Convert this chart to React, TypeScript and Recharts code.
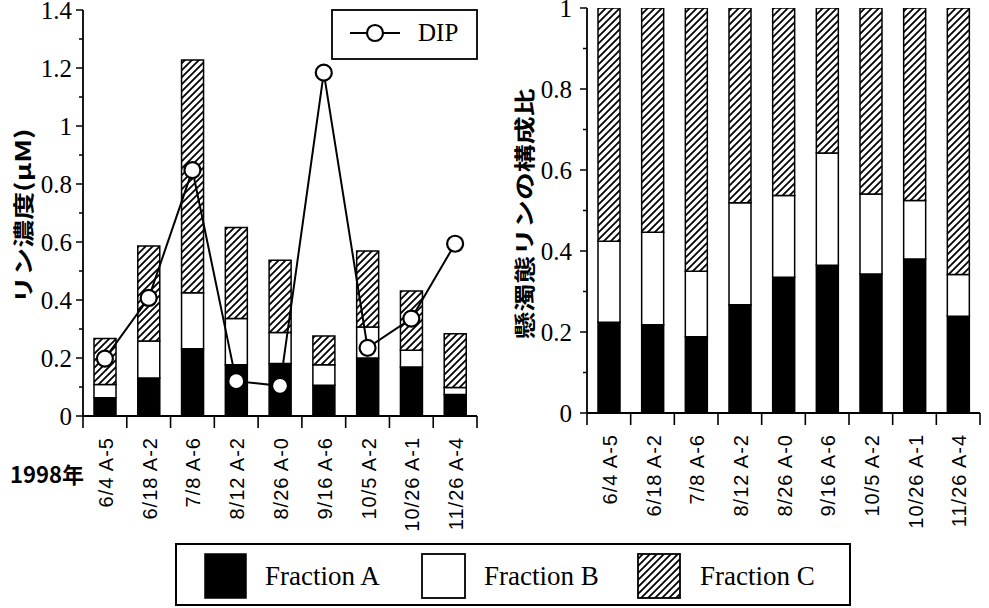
import React from 'react';
import { ComposedChart, Bar, Line, XAxis, YAxis } from 'recharts';

// ---------- data ----------
const categories = ['6/4 A-5', '6/18 A-2', '7/8 A-6', '8/12 A-2', '8/26 A-0', '9/16 A-6', '10/5 A-2', '10/26 A-1', '11/26 A-4'];

// left panel: concentrations (µM)
const fractionA = [0.063, 0.131, 0.232, 0.177, 0.181, 0.106, 0.2, 0.169, 0.074];
const fractionB = [0.046, 0.128, 0.193, 0.159, 0.107, 0.071, 0.107, 0.058, 0.024];
const fractionC = [0.158, 0.327, 0.803, 0.314, 0.249, 0.099, 0.262, 0.204, 0.186];
const dipValues = [0.198, 0.407, 0.848, 0.12, 0.104, 1.184, 0.235, 0.336, 0.594];

// right panel: composition ratio
const ratioA = [0.224, 0.218, 0.188, 0.267, 0.335, 0.365, 0.343, 0.38, 0.239];
const ratioB = [0.2, 0.228, 0.162, 0.252, 0.202, 0.277, 0.198, 0.145, 0.103];
const ratioC = [0.576, 0.554, 0.65, 0.481, 0.463, 0.358, 0.459, 0.475, 0.658];

const leftTicks = [0, 0.1, 0.2, 0.3, 0.4, 0.5, 0.6, 0.7, 0.8, 0.9, 1, 1.1, 1.2, 1.3, 1.4];
const rightTicks = [0, 0.1, 0.2, 0.3, 0.4, 0.5, 0.6, 0.7, 0.8, 0.9, 1];

const leftTitle = 'リン濃度(μM)';
const rightTitle = '懸濁態リンの構成比';
const yearLabel = '1998年';
const legendNames = ['Fraction A', 'Fraction B', 'Fraction C'];
const dipName = 'DIP';

const leftData = categories.map((cat, i) => ({ cat, a: fractionA[i], b: fractionB[i], c: fractionC[i], dip: dipValues[i] }));
const rightData = categories.map((cat, i) => ({ cat, a: ratioA[i], b: ratioB[i], c: ratioC[i] }));

// ---------- styles ----------
const SERIF = 'Liberation Serif';
const SANS = 'Liberation Sans';
const CJK = 'Noto Sans CJK JP';
const AX = { stroke: '#000', strokeWidth: 1.8 };
const HATCH = 'url(#hatchPat)';

const fmt = (v: number) => String(Number(v.toFixed(1)));

const makeYTick = (gap: number) => (props: any) => {
  const { x, y, payload } = props;
  const v = Number(payload.value);
  const major = Math.round(v * 10) % 2 === 0;
  return (
    <g>
      <line x1={x - (major ? 7 : 4)} x2={x} y1={y} y2={y} stroke="#000" strokeWidth={1.5} />
      {major && (
        <text x={x - gap} y={y} dy="0.36em" textAnchor="end" fontFamily={SERIF} fontSize={25} fill="#000">
          {fmt(v)}
        </text>
      )}
    </g>
  );
};

const makeXTick = (band: number) => (props: any) => {
  const { x, y, payload } = props;
  const idx = categories.indexOf(payload.value);
  const last = idx === categories.length - 1;
  return (
    <g>
      <line x1={x - band / 2} x2={x - band / 2} y1={y} y2={y + 12} stroke="#000" strokeWidth={1.6} />
      {last && <line x1={x + band / 2} x2={x + band / 2} y1={y} y2={y + 12} stroke="#000" strokeWidth={1.6} />}
      <text
        transform={`translate(${x + 8},${y + 21}) rotate(-90)`}
        textAnchor="end"
        fontFamily={SANS}
        fontSize={20}
        letterSpacing={1}
        fill="#000"
      >
        {payload.value}
      </text>
    </g>
  );
};

const yTitle = (text: string, cx: number, cy: number) => () => (
  <text
    transform={`translate(${cx},${cy}) rotate(-90) scale(1.33,1)`}
    textAnchor="middle"
    dominantBaseline="central"
    fontFamily={CJK}
    fontWeight={700}
    fontSize={21}
    fill="#000"
  >
    {text}
  </text>
);

const LEFT_W = 490;
const LEFT_PLOT_W = 394;
const RIGHT_W = 494;
const RIGHT_PLOT_W = 393;

const htmlLabel = (left: number, top: number, size: number): React.CSSProperties => ({
  position: 'absolute',
  left,
  top,
  fontFamily: SERIF,
  fontSize: size,
  lineHeight: `${size}px`,
  color: '#000',
  whiteSpace: 'nowrap',
});

export default function App() {
  return (
    <div style={{ position: 'absolute', left: 0, top: 0, width: 989, height: 608, background: '#fff', overflow: 'hidden' }}>
      <svg width={0} height={0} style={{ position: 'absolute' }}>
        <defs>
          <pattern id="hatchPat" patternUnits="userSpaceOnUse" width={7} height={7}>
            <rect x={0} y={0} width={7} height={7} fill="#fff" />
            <path d="M-1,1 L1,-1 M0,7 L7,0 M6,8 L8,6" stroke="#000" strokeWidth={1.8} />
          </pattern>
        </defs>
      </svg>

      {/* left panel */}
      <div style={{ position: 'absolute', left: 0, top: 0 }}>
        <ComposedChart width={LEFT_W} height={608} data={leftData} margin={{ top: 10, right: 13, bottom: 0, left: 0 }}>
          <XAxis dataKey="cat" interval={0} height={192} tickLine={false} tickSize={0} tickMargin={0} axisLine={AX} tick={makeXTick(LEFT_PLOT_W / categories.length)} />
          <XAxis xAxisId="top" orientation="top" dataKey="cat" height={0} tick={false} tickLine={false} axisLine={AX} />
          <YAxis
            type="number"
            domain={[0, 1.4]}
            allowDataOverflow
            ticks={leftTicks}
            interval={0}
            width={83}
            tickLine={false}
            tickSize={0}
            tickMargin={0}
            axisLine={AX}
            tick={makeYTick(11)}
            label={{ content: yTitle(leftTitle, 22, 216) }}
          />
          <YAxis yAxisId="r" orientation="right" type="number" domain={[0, 1.4]} width={0} tick={false} tickLine={false} axisLine={AX} />
          <Bar dataKey="a" stackId="s" fill="#000" stroke="#000" strokeWidth={1.5} barSize={22} isAnimationActive={false} />
          <Bar dataKey="b" stackId="s" fill="#fff" stroke="#000" strokeWidth={1.5} barSize={22} isAnimationActive={false} />
          <Bar dataKey="c" stackId="s" fill={HATCH} stroke="#000" strokeWidth={1.5} barSize={22} isAnimationActive={false} />
          <Line
            dataKey="dip"
            type="linear"
            stroke="#000"
            strokeWidth={2}
            dot={{ r: 8, fill: '#fff', stroke: '#000', strokeWidth: 2.2 }}
            isAnimationActive={false}
          />
        </ComposedChart>
      </div>

      {/* right panel */}
      <div style={{ position: 'absolute', left: 495, top: 0 }}>
        <ComposedChart width={RIGHT_W} height={608} data={rightData} margin={{ top: 8, right: 9, bottom: 0, left: 0 }}>
          <XAxis dataKey="cat" interval={0} height={195} tickLine={false} tickSize={0} tickMargin={0} axisLine={AX} tick={makeXTick(RIGHT_PLOT_W / categories.length)} />
          <XAxis xAxisId="top" orientation="top" dataKey="cat" height={0} tick={false} tickLine={false} axisLine={AX} />
          <YAxis
            type="number"
            domain={[0, 1]}
            allowDataOverflow
            ticks={rightTicks}
            interval={0}
            width={92}
            tickLine={false}
            tickSize={0}
            tickMargin={0}
            axisLine={AX}
            tick={makeYTick(15)}
            label={{ content: yTitle(rightTitle, 28, 214) }}
          />
          <YAxis yAxisId="r" orientation="right" type="number" domain={[0, 1]} width={0} tick={false} tickLine={false} axisLine={AX} />
          <Bar dataKey="a" stackId="s" fill="#000" stroke="#000" strokeWidth={1.5} barSize={22} isAnimationActive={false} />
          <Bar dataKey="b" stackId="s" fill="#fff" stroke="#000" strokeWidth={1.5} barSize={22} isAnimationActive={false} />
          <Bar dataKey="c" stackId="s" fill={HATCH} stroke="#000" strokeWidth={1.5} barSize={22} isAnimationActive={false} />
        </ComposedChart>
      </div>

      {/* legend boxes & markers */}
      <svg width={989} height={608} style={{ position: 'absolute', left: 0, top: 0, pointerEvents: 'none' }}>
        <rect x={332} y={10} width={145} height={49} fill="#fff" stroke="#000" strokeWidth={1.8} />
        <line x1={350} x2={400} y1={33} y2={33} stroke="#000" strokeWidth={2} />
        <circle cx={375} cy={33} r={8} fill="#fff" stroke="#000" strokeWidth={2.2} />

        <text x={47} y={483} textAnchor="middle" fontFamily={CJK} fontWeight={700} fontSize={22} fill="#000">{yearLabel}</text>

        <rect x={176} y={544} width={674} height={61} fill="#fff" stroke="#000" strokeWidth={2} />
        <rect x={205} y={554} width={41} height={44} fill="#000" stroke="#000" strokeWidth={1.5} />
        <rect x={422} y={554} width={43} height={44} fill="#fff" stroke="#000" strokeWidth={1.8} />
        <rect x={638} y={554} width={42} height={44} fill={HATCH} stroke="#000" strokeWidth={1.8} />
      </svg>

      {/* legend texts (HTML) */}
      <div style={htmlLabel(418, 20, 25)}>{dipName}</div>
      <div style={htmlLabel(265, 563, 27)}>{legendNames[0]}</div>
      <div style={htmlLabel(484, 563, 27)}>{legendNames[1]}</div>
      <div style={htmlLabel(700, 563, 27)}>{legendNames[2]}</div>
    </div>
  );
}
